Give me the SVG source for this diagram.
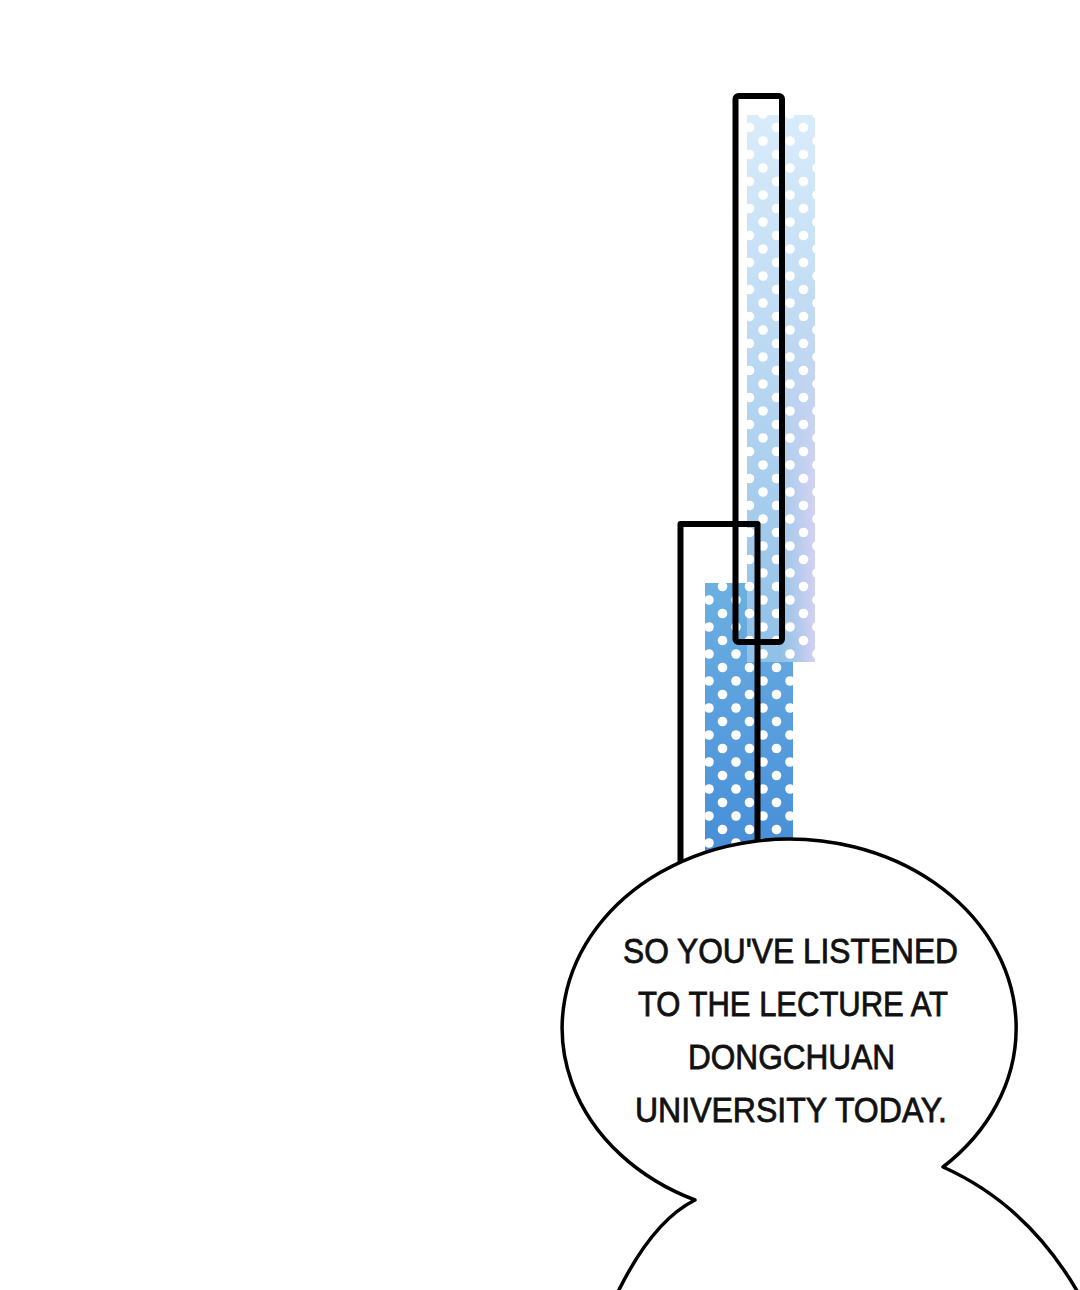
<svg xmlns="http://www.w3.org/2000/svg" width="1080" height="1290" viewBox="0 0 1080 1290">
  <style>
    .frame { fill: none; stroke: #000; stroke-width: 6; stroke-linejoin: round; }
    .bubble { fill: #fff; stroke: #000; stroke-width: 3.5; stroke-linejoin: round; }
    .say { font-family: "Liberation Sans", Arial, sans-serif; font-size: 35px; fill: #111; stroke: #111; stroke-width: 0.8; text-anchor: middle; }
  </style>
  <defs>
    <linearGradient id="gUpper" x1="0" y1="115" x2="0" y2="662" gradientUnits="userSpaceOnUse">
      <stop offset="0" stop-color="#d9ecfb"/>
      <stop offset="0.45" stop-color="#bad8f2"/>
      <stop offset="1" stop-color="#8fc0e6"/>
    </linearGradient>
    <linearGradient id="gPurple" x1="780" y1="0" x2="815" y2="0" gradientUnits="userSpaceOnUse">
      <stop offset="0" stop-color="#cfcdee" stop-opacity="0"/>
      <stop offset="1" stop-color="#d6d2f2" stop-opacity="0.95"/>
    </linearGradient>
    <linearGradient id="gFade" x1="0" y1="280" x2="0" y2="480" gradientUnits="userSpaceOnUse">
      <stop offset="0" stop-color="#fff" stop-opacity="0"/>
      <stop offset="1" stop-color="#fff" stop-opacity="1"/>
    </linearGradient>
    <mask id="mFade">
      <rect x="700" y="100" width="130" height="600" fill="url(#gFade)"/>
    </mask>
    <linearGradient id="gLower" x1="0" y1="583" x2="0" y2="860" gradientUnits="userSpaceOnUse">
      <stop offset="0" stop-color="#6cb0e2"/>
      <stop offset="1" stop-color="#468dd8"/>
    </linearGradient>
    <pattern id="dots" patternUnits="userSpaceOnUse" x="7" y="6" width="27" height="27">
      <circle cx="0" cy="0" r="4.8" fill="#fff"/>
      <circle cx="27" cy="0" r="4.8" fill="#fff"/>
      <circle cx="0" cy="27" r="4.8" fill="#fff"/>
      <circle cx="27" cy="27" r="4.8" fill="#fff"/>
      <circle cx="13.5" cy="13.5" r="4.8" fill="#fff"/>
    </pattern>
  </defs>
  <rect width="1080" height="1290" fill="#fff"/>

  <g id="lower-strip">
    <rect x="705" y="583" width="88" height="290" fill="url(#gLower)"/>
    <rect x="705" y="583" width="88" height="290" fill="url(#dots)"/>
  </g>

  <g id="upper-strip">
    <rect x="747" y="115" width="68" height="547" fill="url(#gUpper)"/>
    <rect x="747" y="115" width="68" height="547" fill="url(#gPurple)" mask="url(#mFade)"/>
    <rect x="747" y="115" width="68" height="547" fill="url(#dots)"/>
  </g>

  <g id="frames">
    <rect class="frame" x="735.5" y="96" width="46.5" height="546" rx="3"/>
    <path class="frame" d="M680.5,880 L680.5,524 L757.5,524 L757.5,880"/>
  </g>

  <g id="speech-bubble">
    <path class="bubble" d="M616,1296 C638,1250 665,1215 695,1200 A227,189 0 1 1 943,1167 C990,1188 1040,1225 1080,1296 Z"/>
    <text class="say" x="790.5" y="963" textLength="335" lengthAdjust="spacingAndGlyphs">SO YOU'VE LISTENED</text>
    <text class="say" x="793" y="1016" textLength="310" lengthAdjust="spacingAndGlyphs">TO THE LECTURE AT</text>
    <text class="say" x="791.5" y="1069" textLength="207" lengthAdjust="spacingAndGlyphs">DONGCHUAN</text>
    <text class="say" x="791" y="1122" textLength="312" lengthAdjust="spacingAndGlyphs">UNIVERSITY TODAY.</text>
  </g>
</svg>
